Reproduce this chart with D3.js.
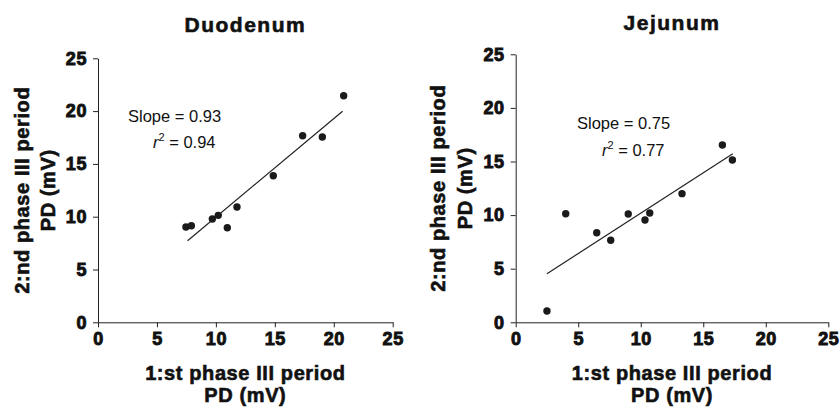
<!DOCTYPE html>
<html>
<head>
<meta charset="utf-8">
<script src="https://cdn.jsdelivr.net/npm/d3@7"></script>
<style>
  body { margin: 0; background: #fff; }
  svg text { font-family: "Liberation Sans", Arial, Helvetica, sans-serif; fill: #111; }
  .heavy { font-weight: bold; stroke: #111; stroke-width: 0.6px; }
  .ax .tick text {
    font-family: "Liberation Sans", Arial, sans-serif !important;
    font-weight: bold !important;
    font-size: 18px !important;
    fill: #111 !important;
    stroke: #111 !important;
    stroke-width: 0.9px !important;
    letter-spacing: 0.6px;
  }
  .ax path, .ax line { stroke: #222; }
</style>
</head>
<body>
<div id="chart"></div>
<script>
// Duodenum: 1st vs 2nd phase III PD (mV)
const duoX = [7.46, 7.92, 9.70, 10.20, 10.97, 11.79, 14.87, 17.36, 19.03, 20.84];
const duoY = [9.02, 9.15, 9.78, 10.13, 8.96, 10.92, 13.88, 17.67, 17.55, 21.46];
const duoFitX = [7.6, 20.75];
const duoFitY = [7.73, 19.99];

// Jejunum
const jejX = [2.5, 4.0, 6.48, 7.6, 9.0, 10.34, 10.72, 13.3, 16.53, 17.33];
const jejY = [1.05, 10.13, 8.36, 7.65, 10.1, 9.54, 10.2, 12.0, 16.54, 15.14];
const jejFitX = [2.5, 17.36];
const jejFitY = [4.53, 15.73];

const tickValues = [0, 5, 10, 15, 20, 25];
const titles = ["Duodenum", "Jejunum"];
const slopes = ["0.93", "0.75"];
const r2s = ["0.94", "0.77"];

const svg = d3.select("#chart").append("svg")
    .attr("width", 840)
    .attr("height", 408);

// panel layout (pixel boxes for the plot area)
const panels = [
    {x0: 98, x1: 392.7, y0: 322.3, y1: 58.3, xs: duoX, ys: duoY, fx: duoFitX, fy: duoFitY,
     titleY: 32, ann: [128, 122, 153, 148], ylab: [29, 55]},
    {x0: 515.7, x1: 828.3, y0: 322.3, y1: 54.3, xs: jejX, ys: jejY, fx: jejFitX, fy: jejFitY,
     titleY: 30, ann: [577, 129, 602, 156], ylab: [445, 472]}
];

panels.forEach(function(p, i) {
    let x = d3.scaleLinear().domain([0, 25]).range([p.x0, p.x1]);
    let y = d3.scaleLinear().domain([0, 25]).range([p.y0, p.y1]);
    let g = svg.append("g");

    // axes
    g.append("g")
        .attr("class", "ax")
        .attr("font-weight", "bold")
        .attr("transform", "translate(0," + p.y0 + ")")
        .call(d3.axisBottom(x).tickValues(tickValues).tickSize(5).tickSizeOuter(0).tickPadding(5));

    g.append("g")
        .attr("class", "ax")
        .attr("font-weight", "bold")
        .attr("transform", "translate(" + p.x0 + ",0)")
        .call(d3.axisLeft(y).tickValues(tickValues).tickSize(5).tickSizeOuter(0).tickPadding(6));

    let cx = (p.x0 + p.x1) / 2;
    let cy = (p.y0 + p.y1) / 2;

    // title
    g.append("text")
        .attr("class", "heavy")
        .attr("x", cx)
        .attr("y", p.titleY)
        .attr("text-anchor", "middle")
        .style("font-size", "21px")
        .style("letter-spacing", "1.5px")
        .text(titles[i]);

    // x label
    ["1:st phase III period", "PD (mV)"].forEach(function(t, k) {
        g.append("text")
            .attr("class", "heavy")
            .attr("x", cx)
            .attr("y", 380 + k * 22)
            .attr("text-anchor", "middle")
            .style("font-size", "20px")
            .style("letter-spacing", "0.6px")
            .text(t);
    });

    // y label
    ["2:nd phase III period", "PD (mV)"].forEach(function(t, k) {
        g.append("text")
            .attr("class", "heavy")
            .attr("transform", "translate(" + p.ylab[k] + "," + cy + ") rotate(-90)")
            .attr("text-anchor", "middle")
            .style("font-size", "20px")
            .style("letter-spacing", "0.6px")
            .text(t);
    });

    // regression line
    g.append("line")
        .attr("x1", x(p.fx[0])).attr("y1", y(p.fy[0]))
        .attr("x2", x(p.fx[1])).attr("y2", y(p.fy[1]))
        .attr("stroke", "#222")
        .attr("stroke-width", 1.2);

    // dots
    g.selectAll("circle")
        .data(p.xs.map((d, j) => ({x: d, y: p.ys[j]})))
        .enter().append("circle")
        .attr("cx", d => x(d.x))
        .attr("cy", d => y(d.y))
        .attr("r", 3.7)
        .attr("fill", "#1a1a1a");

    // annotation
    g.append("text")
        .attr("x", p.ann[0])
        .attr("y", p.ann[1])
        .style("font-size", "16.5px")
        .text("Slope = " + slopes[i]);

    let r = g.append("text")
        .attr("x", p.ann[2])
        .attr("y", p.ann[3])
        .style("font-size", "16.5px");
    r.append("tspan").style("font-style", "italic").text("r");
    r.append("tspan").attr("dy", -7).style("font-size", "11px").text("2");
    r.append("tspan").attr("dy", 7).text(" = " + r2s[i]);
});
</script>
</body>
</html>
